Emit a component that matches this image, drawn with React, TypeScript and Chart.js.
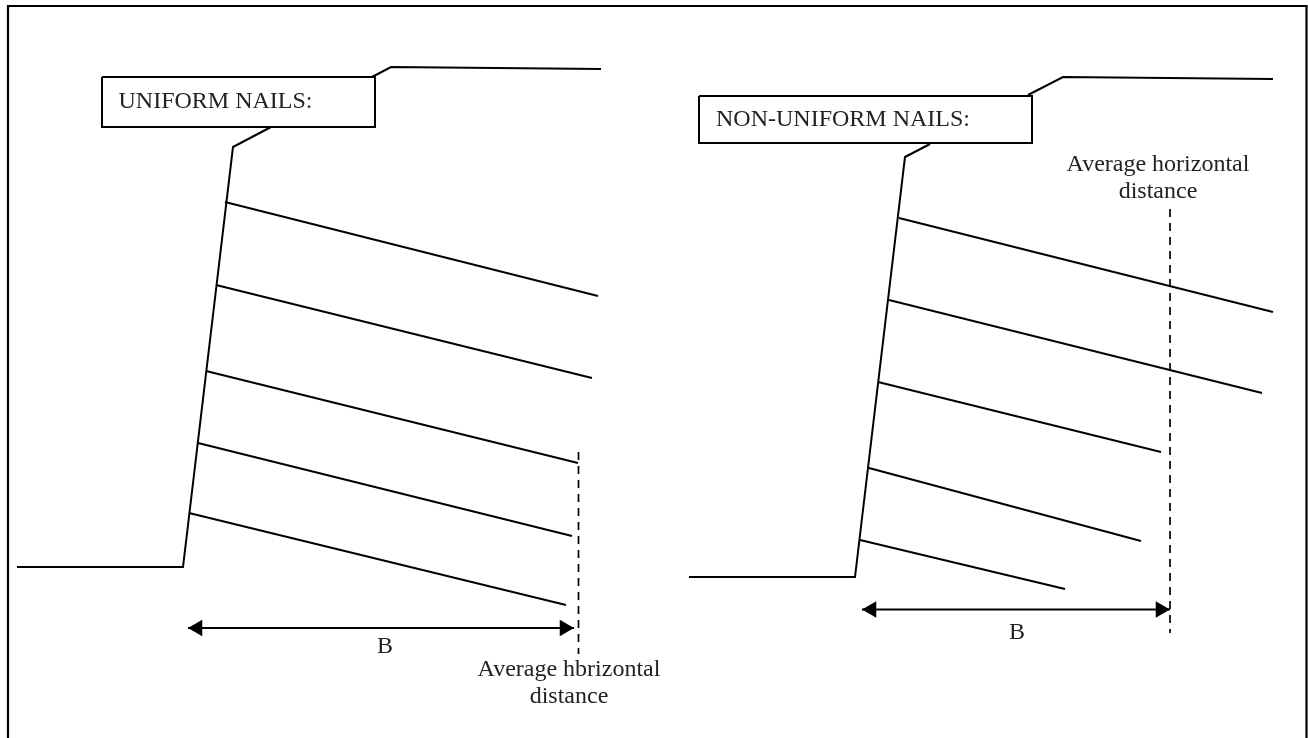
import React, { useEffect, useRef } from "react";
import { Chart, registerables } from "chart.js";

Chart.register(...registerables);

type P = [number, number];

const frame: P[] = [[8, 745], [8, 6], [1306.5, 6], [1306.5, 745]];

const leftSlopeLower: P[] = [[17, 567], [183, 567], [233, 147], [271, 127]];
const leftSlopeUpper: P[] = [[372, 77], [391, 67], [601, 69]];
const leftNails: P[][] = [
  [[225, 202], [598, 296]],
  [[216, 285], [592, 378]],
  [[206, 371], [578, 463]],
  [[198, 443], [572, 536]],
  [[189, 513], [566, 605]],
];
const leftBox: P[] = [[102, 77], [375, 77], [375, 127], [102, 127], [102, 77]];
const leftDash: P[] = [[578.5, 452], [578.5, 654]];
const leftArrow: P[] = [[188, 628], [574, 628]];

const rightSlopeLower: P[] = [[689, 577], [855, 577], [905, 157], [930, 144]];
const rightSlopeUpper: P[] = [[1028, 95], [1063, 77], [1273, 79]];
const rightNails: P[][] = [
  [[899, 218], [1273, 312]],
  [[889, 300], [1262, 393]],
  [[878, 382], [1161, 452]],
  [[869, 468], [1141, 541]],
  [[860, 540], [1065, 589]],
];
const rightBox: P[] = [[699, 96], [1032, 96], [1032, 143], [699, 143], [699, 96]];
const rightDash: P[] = [[1170, 209], [1170, 633]];
const rightArrow: P[] = [[862, 609.5], [1170, 609.5]];

const labels: { text: string; x: number; y: number; align: CanvasTextAlign }[] = [
  { text: "UNIFORM NAILS:", x: 118.5, y: 108, align: "left" },
  { text: "NON-UNIFORM NAILS:", x: 716, y: 126, align: "left" },
  { text: "B", x: 385, y: 653, align: "center" },
  { text: "B", x: 1017, y: 639, align: "center" },
  { text: "Average hbrizontal", x: 569, y: 676, align: "center" },
  { text: "distance", x: 569, y: 703, align: "center" },
  { text: "Average horizontal", x: 1158, y: 171, align: "center" },
  { text: "distance", x: 1158, y: 198, align: "center" },
];

const INK = "#000000";
const TEXT = "#222222";
const HEAD = 9.5;

const toPts = (pts: P[]) => pts.map(([x, y]) => ({ x, y }));

const solid = (pts: P[], width = 2) => ({
  data: toPts(pts),
  showLine: true,
  borderColor: INK,
  borderWidth: width,
  borderJoinStyle: "miter" as const,
  pointRadius: 0,
  tension: 0,
  clip: false,
});

const dashed = (pts: P[]) => ({
  ...solid(pts, 1.7),
  borderDash: [8, 6],
});

const heads = (pts: P[]) => ({
  data: [
    { x: pts[0][0] + HEAD, y: pts[0][1] },
    { x: pts[1][0] - HEAD, y: pts[1][1] },
  ],
  showLine: false,
  pointStyle: "triangle",
  pointRadius: HEAD,
  pointRotation: [-90, 90],
  pointBackgroundColor: INK,
  pointBorderColor: INK,
  pointBorderWidth: 0,
  clip: false,
});

const textPlugin = {
  id: "diagramText",
  afterDatasetsDraw(chart: any) {
    const { ctx, scales } = chart;
    ctx.save();
    ctx.fillStyle = TEXT;
    ctx.font = "24px 'Liberation Serif'";
    ctx.textBaseline = "alphabetic";
    for (const l of labels) {
      ctx.textAlign = l.align;
      ctx.fillText(l.text, scales.x.getPixelForValue(l.x), scales.y.getPixelForValue(l.y));
    }
    ctx.restore();
  },
};

export default function App() {
  const ref = useRef<HTMLCanvasElement>(null);
  useEffect(() => {
    document.body.style.margin = "0";
    document.body.style.background = "#ffffff";
    const chart = new Chart(ref.current!, {
      type: "scatter",
      data: {
        datasets: [
          solid(frame, 2.2),
          solid(leftSlopeLower),
          solid(leftSlopeUpper),
          ...leftNails.map((n) => solid(n)),
          solid(leftBox),
          dashed(leftDash),
          solid(leftArrow),
          heads(leftArrow),
          solid(rightSlopeLower),
          solid(rightSlopeUpper),
          ...rightNails.map((n) => solid(n)),
          solid(rightBox),
          dashed(rightDash),
          solid(rightArrow),
          heads(rightArrow),
        ] as any,
      },
      options: {
        animation: false,
        responsive: false,
        devicePixelRatio: 1,
        layout: { padding: 0, autoPadding: false },
        plugins: { legend: { display: false }, tooltip: { enabled: false }, title: { display: false } },
        scales: {
          x: { type: "linear", display: false, min: 0, max: 1308 },
          y: { type: "linear", display: false, min: 0, max: 738, reverse: true },
        },
      },
      plugins: [textPlugin],
    });
    return () => chart.destroy();
  }, []);
  return <canvas ref={ref} width={1308} height={738} style={{ display: "block", width: 1308, height: 738 }} />;
}
